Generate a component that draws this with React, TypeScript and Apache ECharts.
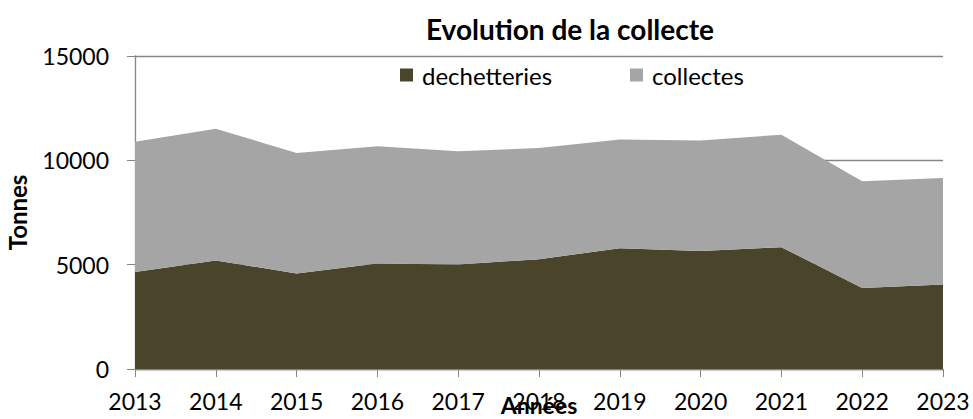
import React, { useEffect, useRef } from "react";
import * as echarts from "echarts";

const years = ["2013", "2014", "2015", "2016", "2017", "2018", "2019", "2020", "2021", "2022", "2023"];
const dechetteries = [4650, 5200, 4580, 5050, 5010, 5260, 5790, 5650, 5840, 3880, 4050];
const collectes = [6240, 6310, 5770, 5630, 5430, 5330, 5210, 5300, 5390, 5120, 5100];
const seriesNames = ["dechetteries", "collectes"];
const seriesColors = ["#4A452A", "#A5A5A5"];

const FONT = "Lato, 'Open Sans', sans-serif";

export default function App() {
  const ref = useRef<HTMLDivElement>(null);
  useEffect(() => {
    if (!ref.current) return;
    const chart = echarts.init(ref.current, null, { renderer: "svg" });
    const dataSets = [dechetteries, collectes];
    const legendBase = {
      top: 58,
      itemWidth: 13,
      itemHeight: 13,
      icon: "rect",
      textStyle: { fontFamily: FONT, fontSize: 24, color: "#000", padding: [0, 0, 0, 4] },
    };
    chart.setOption({
      animation: false,
      textStyle: { fontFamily: FONT },
      title: {
        text: "Evolution de la collecte",
        left: 565,
        textAlign: "center",
        top: 10,
        textStyle: { fontFamily: FONT, fontSize: 28, fontWeight: "bold", color: "#000" },
      },
      legend: [
        { ...legendBase, left: 395, data: [seriesNames[0]] },
        { ...legendBase, left: 625, data: [seriesNames[1]] },
      ],
      grid: {
        left: 135,
        right: 30,
        top: 56,
        bottom: 50,
        containLabel: false,
        outerBoundsMode: "none",
      },
      xAxis: {
        type: "category",
        data: years,
        boundaryGap: false,
        name: "Années",
        nameLocation: "middle",
        nameGap: 24,
        nameMoveOverlap: false,
        nameTextStyle: { fontFamily: FONT, fontSize: 23, fontWeight: "bold", color: "#000" },
        axisLine: { lineStyle: { color: "#868686", width: 1.3 } },
        axisTick: { show: true, length: 8, lineStyle: { color: "#868686" } },
        axisLabel: { fontFamily: FONT, fontSize: 23, color: "#000", margin: 20 },
        splitLine: { show: false },
      },
      yAxis: {
        type: "value",
        min: 0,
        max: 15000,
        interval: 5000,
        name: "Tonnes",
        nameLocation: "middle",
        nameRotate: 90,
        nameGap: 106,
        nameMoveOverlap: false,
        nameTextStyle: { fontFamily: FONT, fontSize: 24, fontWeight: "bold", color: "#000" },
        axisLine: { show: true, lineStyle: { color: "#868686", width: 1.3 } },
        axisTick: { show: true, length: 8, lineStyle: { color: "#868686" } },
        axisLabel: {
          fontFamily: FONT,
          fontSize: 23,
          color: "#000",
          margin: 26,
          formatter: (v: number) => String(v),
        },
        splitLine: { show: true, lineStyle: { color: "#868686", width: 1.3 } },
      },
      series: seriesNames.map((name, i) => ({
        name,
        type: "line",
        stack: "total",
        data: dataSets[i],
        symbol: "none",
        lineStyle: { width: 0 },
        areaStyle: { color: seriesColors[i], opacity: 1 },
        itemStyle: { color: seriesColors[i] },
      })),
    });
    return () => chart.dispose();
  }, []);
  return <div ref={ref} style={{ width: 973, height: 419, position: "absolute", left: 0, top: 0 }} />;
}
